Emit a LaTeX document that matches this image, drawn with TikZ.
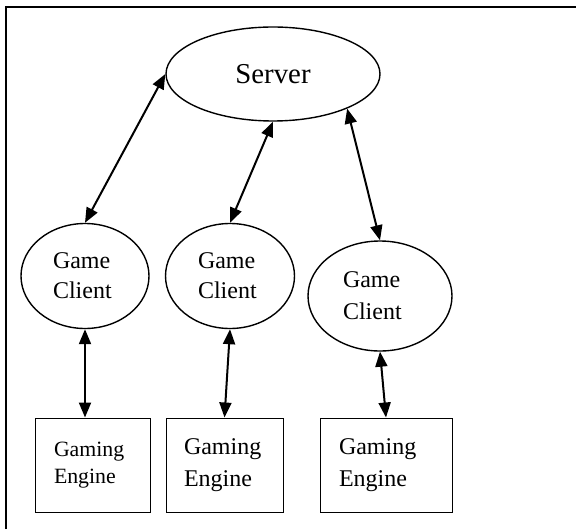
\documentclass[tikz,border=0pt]{standalone}
\usepackage{fontspec}
\setmainfont{Liberation Serif}
\usetikzlibrary{arrows.meta,shapes.geometric,calc}

\begin{document}
\begin{tikzpicture}[x=0.5pt,y=-0.5pt,
    oval/.style={draw,ellipse,line width=0.7pt,inner sep=0pt,align=left},
    enginebox/.style={draw,rectangle,line width=0.5pt,inner sep=0pt,align=left},
    link/.style={{Triangle[length=7.5pt,width=6pt]}-{Triangle[length=7.5pt,width=6pt]},line width=1pt}]
    \useasboundingbox (0,0) rectangle (576,529);
    % Frame
    \draw[line width=1pt] (6,529) -- (6,7) -- (576,7);
    % Server
    \node[oval,minimum width=107pt,minimum height=47pt,
      font=\fontsize{14.4}{17}\selectfont] (srv) at (273,74) {Server};
    % Clients
    \node[oval,minimum width=64pt,minimum height=52.5pt,text width=32pt,
      font=\fontsize{12}{15}\selectfont] (c1) at (85,276) {Game\\Client};
    \node[oval,minimum width=64.5pt,minimum height=52.5pt,text width=32pt,
      font=\fontsize{12}{15}\selectfont] (c2) at (230,276) {Game\\Client};
    \node[oval,minimum width=72pt,minimum height=55pt,text width=37pt,
      font=\fontsize{12}{16}\selectfont] (c3) at (380,296) {Game\\Client};
    % Engines
    \node[enginebox,minimum width=57.5pt,minimum height=47pt,text width=38.5pt,
      font=\fontsize{10.9}{13.5}\selectfont] (e1) at (92.5,465) {Gaming\\Engine};
    \node[enginebox,minimum width=58.5pt,minimum height=47pt,text width=40.5pt,
      font=\fontsize{12}{16}\selectfont] (e2) at (224.5,465) {Gaming\\Engine};
    \node[enginebox,minimum width=66pt,minimum height=47pt,text width=47pt,
      font=\fontsize{12}{16}\selectfont] (e3) at (386,465) {Gaming\\Engine};
    % Links
    \draw[link] (srv.west) -- (c1.north);
    \draw[link] (srv.south) -- (c2.north);
    \draw[link] (srv.-25) -- (c3.north);
    \draw[link] (c1.south) -- (c1.south |- e1.north);
    \draw[link] (c2.south) -- (e2.north);
    \draw[link] (c3.south) -- (e3.north);
\end{tikzpicture}
\end{document}
